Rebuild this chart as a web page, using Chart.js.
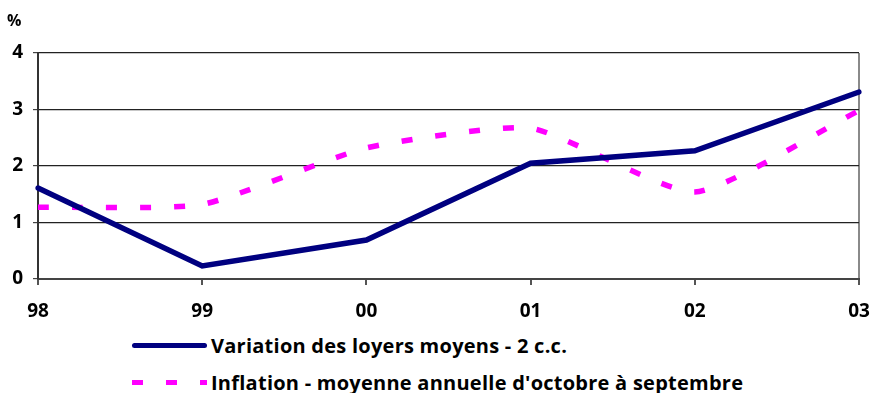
<!DOCTYPE html>
<html>
<head>
<meta charset="utf-8">
<script src="https://cdn.jsdelivr.net/npm/chart.js@4.4.1/dist/chart.umd.min.js"></script>
<style>
  body { margin: 0; background: #fff; }
  #wrap { position: relative; width: 872px; height: 393px; font-family: "Open Sans", sans-serif; font-weight: bold; }
  #box { position: absolute; left: 0; top: 0; width: 872px; height: 320px; }
  #pct { position: absolute; left: 7px; top: 9px; font-size: 16px; }
  .leg { position: absolute; left: 132px; height: 26px; display: flex; align-items: center; font-size: 20px; letter-spacing: 0.25px; }
  .leg .s { width: 75px; height: 5px; margin-right: 4px; }
  #l1 { top: 332px; }
  #l2 { top: 369px; }
  #l1 .s { background: #000080; border-radius: 3px; }
  #l2 .s { height: 5px; background: repeating-linear-gradient(90deg, #ff00ff 0 11px, transparent 11px 34px); position: relative; }
  #l2 .s::after { content: ""; position: absolute; left: 70px; top: 0; width: 5px; height: 5px; background: #ff00ff; }
</style>
</head>
<body>
<div id="wrap">
  <div id="box"><canvas id="lineChart"></canvas></div>
  <div id="pct">%</div>
  <div class="leg" id="l1"><div class="s"></div><span>Variation des loyers moyens - 2 c.c.</span></div>
  <div class="leg" id="l2"><div class="s"></div><span>Inflation - moyenne annuelle d'octobre à septembre</span></div>
</div>
<script>
// années
const annees = ['98', '99', '00', '01', '02', '03'];
const loyers = [1.61, 0.23, 0.69, 2.05, 2.27, 3.31];
const inflation = [1.27, 1.32, 2.32, 2.67, 1.54, 2.98];
const yTicks = [0, 1, 2, 3, 4];

const tickFont = { family: 'Open Sans', weight: 'bold', size: 19 };

const canvas = document.querySelector('#lineChart');
const chart = new Chart(canvas, {
    type: 'line',
    data: {
        labels: annees,
        datasets: [
            {
                label: 'Variation des loyers moyens - 2 c.c.',
                data: loyers,
                borderColor: '#000080',
                borderWidth: 5.5,
                pointRadius: 0,
                tension: 0,
                borderCapStyle: 'round',
            },
            {
                label: "Inflation - moyenne annuelle d'octobre à septembre",
                data: inflation,
                borderColor: '#ff00ff',
                borderWidth: 5.5,
                borderDash: [11, 23],
                pointRadius: 0,
                tension: 0.18,
            },
        ],
    },
    options: {
        responsive: true,
        maintainAspectRatio: false,
        animation: false,
        layout: { padding: { left: 0, right: 13, top: 53, bottom: 0 } },
        plugins: { legend: { display: false }, tooltip: { enabled: false } },
        scales: {
            x: {
                offset: false,
                afterFit: (s) => { s.height = 41; s.paddingRight = 0; s.paddingLeft = 0; },
                grid: {
                    color: (c) => (c.index === annees.length - 1 ? '#8a8a8a' : 'transparent'),
                    tickColor: '#555',
                    tickLength: 6,
                    lineWidth: 2,
                },
                border: { color: '#444', width: 2 },
                ticks: { color: '#000', font: tickFont, padding: 15, maxRotation: 0 },
            },
            y: {
                min: 0,
                max: 4,
                afterFit: (s) => { s.width = 38; },
                afterBuildTicks: (s) => { s.ticks = yTicks.map((v) => ({ value: v })); },
                grid: { color: '#222', tickColor: '#444', tickLength: 5, lineWidth: 1.2 },
                border: { color: '#333', width: 2 },
                ticks: { color: '#000', font: tickFont, padding: 10 },
            },
        },
    },
});
</script>
</body>
</html>
